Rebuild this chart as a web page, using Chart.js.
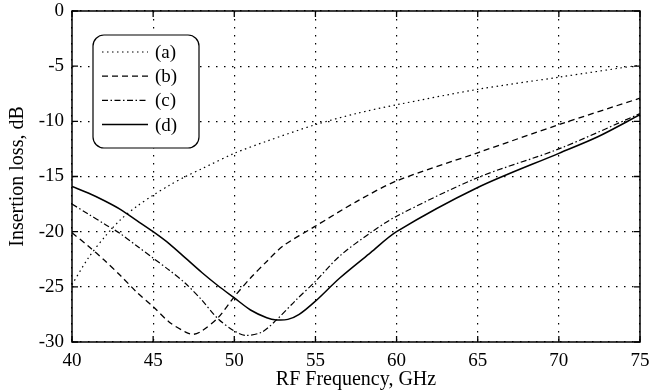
<!DOCTYPE html>
<html>
<head>
<meta charset="utf-8">
<script src="https://cdn.jsdelivr.net/npm/chart.js@4.4.0/dist/chart.umd.min.js"></script>
<style>
  html, body { margin: 0; padding: 0; background: #fff; }
  #wrap { width: 649px; height: 392px; position: relative; }
</style>
</head>
<body>
<div id="wrap"><canvas id="lossChart"></canvas></div>
<script>
// frequency (GHz) / insertion loss (dB)
const freqA = [40, 41, 42, 43, 44, 45, 46, 47, 48, 50, 52, 55, 57.5, 60, 65, 70, 75];
const lossA = [-24.8, -22.4, -20.5, -18.9, -17.7, -16.7, -15.8, -15.0, -14.3, -12.9, -11.8, -10.3, -9.3, -8.5, -7.1, -6.0, -4.9];

const freqB = [40, 41, 42, 43, 44, 45, 46, 47, 47.5, 48, 49, 50, 51, 52, 53, 55, 57.5, 60, 65, 70, 75];
const lossB = [-20.1, -21.3, -22.6, -24.0, -25.5, -26.8, -28.2, -29.1, -29.3, -29.0, -27.8, -25.9, -24.2, -22.7, -21.3, -19.5, -17.3, -15.4, -12.85, -10.3, -7.9];

const freqC = [40, 41, 42, 43, 44, 45, 46, 47, 48, 49, 50, 50.7, 51.7, 52.6, 53.8, 55, 56.5, 58.4, 60, 65, 70, 75];
const lossC = [-17.5, -18.4, -19.3, -20.2, -21.3, -22.4, -23.5, -24.7, -26.2, -27.9, -29.0, -29.4, -29.1, -28.0, -26.2, -24.5, -22.2, -20.1, -18.6, -15.1, -12.5, -9.3];

const freqD = [40, 41, 42, 43, 44, 45, 46, 47, 48, 49, 50, 51, 52, 52.6, 53.3, 54, 55, 56.5, 58.4, 60, 65, 70, 72.4, 75];
const lossD = [-15.9, -16.5, -17.2, -18.0, -19.0, -20.0, -21.1, -22.4, -23.7, -24.9, -26.0, -27.1, -27.8, -28.0, -27.95, -27.5, -26.3, -24.2, -21.9, -20.0, -16.0, -12.9, -11.4, -9.4];

const seriesLabels = ['(a)', '(b)', '(c)', '(d)'];
const xTicks = [40, 45, 50, 55, 60, 65, 70, 75];
const yTicks = [-30, -25, -20, -15, -10, -5, 0];

const serif = "'Liberation Serif', 'DejaVu Serif', serif";

function pts(xs, ys) {
    return xs.map((x, i) => ({ x: x, y: ys[i] }));
}

// frame, inward ticks and the boxed legend
const framePlugin = {
    id: 'frame',
    afterDraw(chart) {
        const c = chart.ctx;
        const a = chart.chartArea;
        const xs = chart.scales.x, ys = chart.scales.y;
        c.save();
        c.strokeStyle = '#000';
        c.lineWidth = 1.5;
        c.setLineDash([]);
        c.strokeRect(a.left, a.top, a.right - a.left, a.bottom - a.top);
        c.lineWidth = 1.3;
        xTicks.forEach(v => {
            const px = xs.getPixelForValue(v);
            c.beginPath();
            c.moveTo(px, a.bottom); c.lineTo(px, a.bottom - 6);
            c.moveTo(px, a.top); c.lineTo(px, a.top + 6);
            c.stroke();
        });
        yTicks.forEach(v => {
            const py = ys.getPixelForValue(v);
            c.beginPath();
            c.moveTo(a.left, py); c.lineTo(a.left + 6, py);
            c.moveTo(a.right, py); c.lineTo(a.right - 6, py);
            c.stroke();
        });

        // legend box
        const bx = 93, by = 35, bw = 106, bh = 113, r = 11;
        c.fillStyle = '#fff';
        c.lineWidth = 1.2;
        c.beginPath();
        c.roundRect(bx, by, bw, bh, r);
        c.fill();
        c.stroke();
        c.font = '19px ' + serif;
        c.textBaseline = 'middle';
        c.fillStyle = '#000';
        chart.data.datasets.forEach((ds, i) => {
            const ly = 52 + i * 24.2;
            c.beginPath();
            c.lineWidth = ds.borderWidth;
            c.setLineDash(ds.borderDash || []);
            c.moveTo(102, ly); c.lineTo(148, ly);
            c.stroke();
            c.setLineDash([]);
            c.fillText(ds.label, 155, ly + 1);
        });
        c.restore();
    }
};

const ctx = document.getElementById('lossChart').getContext('2d');
const lossChart = new Chart(ctx, {
    type: 'scatter',
    data: {
        datasets: [
            { label: seriesLabels[0], data: pts(freqA, lossA), borderDash: [1.5, 3.5], borderWidth: 1.2 },
            { label: seriesLabels[1], data: pts(freqB, lossB), borderDash: [6, 4], borderWidth: 1.3 },
            { label: seriesLabels[2], data: pts(freqC, lossC), borderDash: [6, 2.5, 1.5, 2.5], borderWidth: 1.2 },
            { label: seriesLabels[3], data: pts(freqD, lossD), borderDash: [], borderWidth: 1.5 }
        ].map(ds => Object.assign(ds, {
            showLine: true,
            borderColor: '#000',
            pointRadius: 0,
            tension: 0.3,
            fill: false
        }))
    },
    options: {
        responsive: true,
        maintainAspectRatio: false,
        animation: false,
        layout: { padding: { top: 11, right: 9, left: 0, bottom: 0 } },
        plugins: {
            legend: { display: false },
            tooltip: { enabled: false }
        },
        scales: {
            x: {
                type: 'linear',
                min: 40, max: 75,
                afterBuildTicks: s => { s.ticks = xTicks.map(v => ({ value: v })); },
                afterFit: s => { s.height = 50; s.paddingLeft = 0; s.paddingRight = 0; },
                grid: { color: '#000', lineWidth: 1.2, drawTicks: false },
                border: { display: false, dash: [1.5, 6.5] },
                ticks: { color: '#000', font: { family: serif, size: 19 }, padding: 8, maxRotation: 0 },
                title: { display: true, text: 'RF Frequency, GHz', color: '#000', font: { family: serif, size: 20 }, padding: { top: 0, bottom: 0 } }
            },
            y: {
                min: -30, max: 0,
                afterBuildTicks: s => { s.ticks = yTicks.map(v => ({ value: v })); },
                afterFit: s => { s.width = 72; s.paddingTop = 0; s.paddingBottom = 0; },
                grid: { color: '#000', lineWidth: 1.2, drawTicks: false },
                border: { display: false, dash: [1.5, 6.5] },
                ticks: { color: '#000', font: { family: serif, size: 19 }, padding: 8 },
                title: { display: true, text: 'Insertion loss, dB', color: '#000', font: { family: serif, size: 20 }, padding: { top: 6, bottom: 0 } }
            }
        }
    },
    plugins: [framePlugin]
});
</script>
</body>
</html>
